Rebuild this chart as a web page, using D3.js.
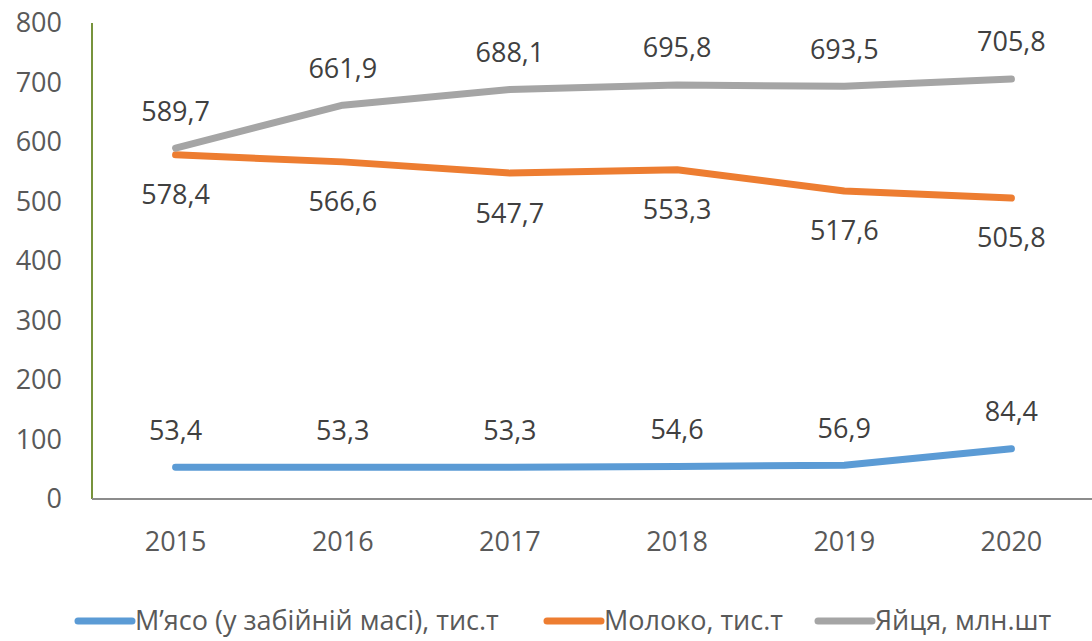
<!DOCTYPE html>
<html>
<head>
<meta charset="utf-8">
<script src="https://cdn.jsdelivr.net/npm/d3@7"></script>
<style>
  body { margin: 0; background: #fff; }
  svg { font-family: "Open Sans", "Liberation Sans", sans-serif; }
</style>
</head>
<body>
<svg></svg>
<script>
// Chart data
var years = ["2015", "2016", "2017", "2018", "2019", "2020"];
var meat = [53.4, 53.3, 53.3, 54.6, 56.9, 84.4];
var milk = [578.4, 566.6, 547.7, 553.3, 517.6, 505.8];
var eggs = [589.7, 661.9, 688.1, 695.8, 693.5, 705.8];
var seriesNames = ["М’ясо (у забійній масі), тис.т", "Молоко, тис.т", "Яйця, млн.шт"];
var yTicks = [0, 100, 200, 300, 400, 500, 600, 700, 800];

var w = 1092;
var h = 641;

// Plot area
var plotLeft = 92, plotRight = 1095, plotTop = 23, plotBottom = 499;

var svg = d3.select("svg")
    .attr("width", w)
    .attr("height", h);

var xScale = d3.scaleBand()
    .domain(years)
    .range([plotLeft, plotRight]);

var yScale = d3.scaleLinear()
    .domain([0, 800])
    .range([plotBottom, plotTop]);

var series = [
    { name: seriesNames[0], values: meat, color: "#5B9BD5", labelPos: "above" },
    { name: seriesNames[1], values: milk, color: "#ED7D31", labelPos: "below" },
    { name: seriesNames[2], values: eggs, color: "#A5A5A5", labelPos: "above" }
];

// y axis (labels only, coloured line)
var yAxis = d3.axisLeft(yScale)
    .tickValues(yTicks)
    .tickSize(0)
    .tickPadding(30);

var gy = svg.append("g")
    .attr("transform", "translate(" + plotLeft + ",0)")
    .call(yAxis);
gy.select(".domain").remove();
gy.selectAll("text")
    .attr("font-size", "27px")
    .attr("fill", "#595959")
    .attr("font-family", "'Open Sans', sans-serif");

svg.append("line")
    .attr("x1", plotLeft).attr("x2", plotLeft)
    .attr("y1", plotTop).attr("y2", plotBottom)
    .attr("stroke", "#77933C")
    .attr("stroke-width", 2);

// x axis
var xAxis = d3.axisBottom(xScale).tickSize(0).tickPadding(33);
var gx = svg.append("g")
    .attr("transform", "translate(0," + plotBottom + ")")
    .call(xAxis);
gx.select(".domain").remove();
gx.selectAll("text")
    .attr("font-size", "27px")
    .attr("fill", "#595959")
    .attr("font-family", "'Open Sans', sans-serif");

svg.append("line")
    .attr("x1", plotLeft).attr("x2", w)
    .attr("y1", plotBottom).attr("y2", plotBottom)
    .attr("stroke", "#8C8C8C")
    .attr("stroke-width", 2);

var line = d3.line()
    .x(function (d, i) { return xScale(years[i]) + xScale.bandwidth() / 2; })
    .y(function (d) { return yScale(d); });

// lines and labels
series.forEach(function (s) {
    svg.append("path")
        .datum(s.values)
        .attr("fill", "none")
        .attr("stroke", s.color)
        .attr("stroke-width", 7)
        .attr("stroke-linecap", "round")
        .attr("stroke-linejoin", "round")
        .attr("d", line);

    svg.selectAll(null)
        .data(s.values)
        .enter().append("text")
        .attr("x", function (d, i) { return xScale(years[i]) + xScale.bandwidth() / 2; })
        .attr("y", function (d) { return yScale(d) + (s.labelPos === "above" ? -37 : 40); })
        .attr("dy", "0.35em")
        .attr("text-anchor", "middle")
        .attr("font-size", "27px")
        .attr("fill", "#404040")
        .text(function (d) { return String(d).replace(".", ","); });
});

// legend
var legendItems = [
    { x: 78, color: series[0].color, name: series[0].name },
    { x: 547, color: series[1].color, name: series[1].name },
    { x: 818, color: series[2].color, name: series[2].name }
];
var legend = svg.append("g").attr("transform", "translate(0,621)");
legendItems.forEach(function (d) {
    legend.append("line")
        .attr("x1", d.x).attr("x2", d.x + 54)
        .attr("y1", 0).attr("y2", 0)
        .attr("stroke", d.color)
        .attr("stroke-width", 7)
        .attr("stroke-linecap", "round");
    legend.append("text")
        .attr("x", d.x + 57)
        .attr("y", 0)
        .attr("dy", "0.35em")
        .attr("font-size", "27px")
        .attr("fill", "#595959")
        .text(d.name);
});
</script>
</body>
</html>
